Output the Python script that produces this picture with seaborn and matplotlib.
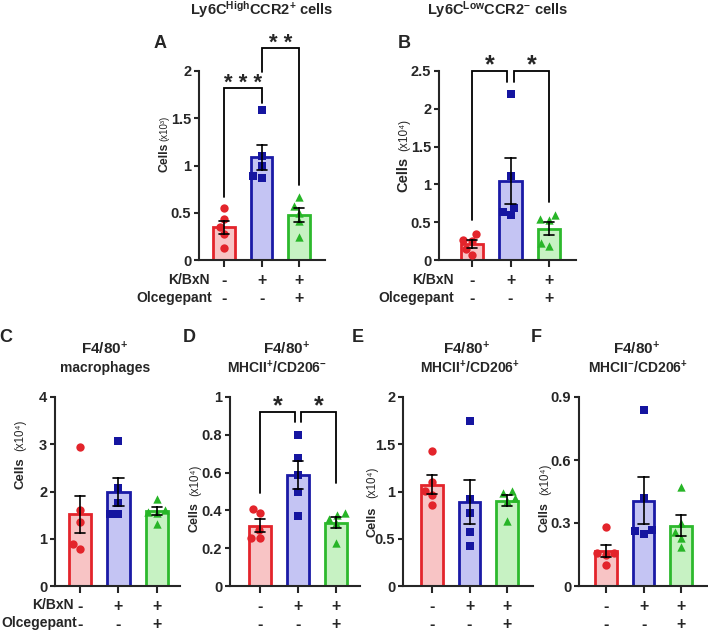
import pandas as pd
import seaborn as sns
import matplotlib
matplotlib.use("Agg")
import matplotlib.pyplot as plt
from matplotlib.ticker import FuncFormatter

groups = ["Control", "K/BxN", "K/BxN + Olcegepant"]
kbxn_signs = ["-", "+", "+"]
olce_signs = ["-", "-", "+"]

# cells per mouse (5 mice per group)
a_ctrl = [0.55, 0.43, 0.35, 0.27, 0.13]
a_kbxn = [1.59, 1.10, 1.00, 0.87, 0.885]
a_olce = [0.67, 0.57, 0.50, 0.41, 0.24]

b_ctrl = [0.35, 0.27, 0.25, 0.14, 0.06]
b_kbxn = [2.19, 1.11, 0.69, 0.59, 0.635]
b_olce = [0.60, 0.54, 0.525, 0.23, 0.18]

c_ctrl = [2.94, 1.61, 1.36, 0.88, 0.78]
c_kbxn = [3.07, 2.08, 1.75, 1.52, 1.52]
c_olce = [1.85, 1.61, 1.57, 1.55, 1.32]

d_ctrl = [0.41, 0.384, 0.296, 0.255, 0.252]
d_kbxn = [0.80, 0.678, 0.586, 0.50, 0.371]
d_olce = [0.387, 0.375, 0.356, 0.331, 0.225]

e_ctrl = [1.43, 1.10, 1.01, 0.96, 0.86]
e_kbxn = [1.75, 0.92, 0.775, 0.567, 0.42]
e_olce = [1.01, 0.98, 0.93, 0.90, 0.69]

f_ctrl = [0.279, 0.158, 0.155, 0.147, 0.10]
f_kbxn = [0.837, 0.42, 0.266, 0.261, 0.25]
f_olce = [0.472, 0.298, 0.255, 0.227, 0.187]

edge_colors = ["#E3242B", "#1A1AA6", "#2DB92D"]
fill_colors = ["#F8C4C5", "#C4C4F3", "#C7F2C3"]
point_colors = ["#E3242B", "#1515A0", "#27B527"]
markers = ["o", "s", "^"]

sns.set_style("ticks")
plt.rcParams["font.family"] = ["Liberation Sans", "DejaVu Sans"]
plt.rcParams["font.weight"] = "bold"
plt.rcParams["mathtext.fontset"] = "custom"
plt.rcParams["mathtext.rm"] = "Liberation Sans:bold"
plt.rcParams["mathtext.it"] = "Liberation Sans:bold"
plt.rcParams["mathtext.bf"] = "Liberation Sans:bold"

W, H = 708, 632
fig = plt.figure(figsize=(W / 100, H / 100), dpi=100)


def fx(x):
    return x / W


def fy(y):
    return 1 - y / H


def make_df(ctrl, kbxn, olce):
    vals = ctrl + kbxn + olce
    labels = [groups[0]] * len(ctrl) + [groups[1]] * len(kbxn) + [groups[2]] * len(olce)
    return pd.DataFrame({"group": labels, "cells": vals})


def panel(box, df, yticks, xlim):
    left, top, right, bottom = box
    ax = fig.add_axes([fx(left), fy(bottom), (right - left) / W, (bottom - top) / H])
    sns.barplot(data=df, x="group", y="cells", hue="group", order=groups, hue_order=groups,
                palette=fill_colors, saturation=1, width=0.58, errorbar="se", capsize=0.27,
                err_kws={"color": "black", "linewidth": 1.2, "zorder": 5}, legend=False, ax=ax)
    for patch, ec in zip(ax.patches, edge_colors):
        patch.set_edgecolor(ec)
        patch.set_linewidth(2.0)
    for g, m, c in zip(groups, markers, point_colors):
        sns.swarmplot(data=df[df.group == g], x="group", y="cells", order=groups,
                      marker=m, color=c, size=6, zorder=4, ax=ax)
    ax.set_xlim(*xlim)
    ax.set_ylim(0, yticks[-1])
    ax.set_yticks(yticks)
    ax.yaxis.set_major_formatter(FuncFormatter(lambda v, _: f"{v:g}"))
    ax.set_xticks([0, 1, 2])
    ax.set_xticklabels([])
    ax.set_xlabel("")
    ax.set_ylabel("")
    sns.despine(ax=ax)
    for s in ["left", "bottom"]:
        ax.spines[s].set_linewidth(1.5)
    ax.tick_params(axis="y", length=3.6, width=1.5, labelsize=10.5, pad=2)
    ax.tick_params(axis="x", length=5, width=1.5)
    for i in range(3):
        ax.annotate(kbxn_signs[i], (i, 0), xycoords=("data", "axes fraction"),
                    xytext=(0, -20), textcoords="offset pixels", ha="center", va="center",
                    fontsize=11.5, fontweight="bold")
        ax.annotate(olce_signs[i], (i, 0), xycoords=("data", "axes fraction"),
                    xytext=(0, -38), textcoords="offset pixels", ha="center", va="center",
                    fontsize=11.5, fontweight="bold")
    return ax


def bracket(ax, x0, x1, top, lb, rb, label, size):
    ax.plot([x0, x0, x1, x1], [lb, top, top, rb], color="black", lw=1.3, clip_on=False,
            solid_joinstyle="miter")
    ax.annotate(label, ((x0 + x1) / 2, top), xytext=(0, -1), textcoords="offset pixels",
                ha="center", va="baseline", fontsize=size, fontweight="bold",
                annotation_clip=False)


def ylabel(x, y_cells, y_unit, unit, s1, s2):
    fig.text(fx(x), fy(y_cells), "Cells", rotation=90, rotation_mode="anchor",
             ha="center", va="baseline", fontsize=s1, fontweight="bold")
    fig.text(fx(x), fy(y_unit), unit, rotation=90, rotation_mode="anchor",
             ha="center", va="baseline", fontsize=s2, fontweight="normal")


# top row
ax_a = panel((199, 71, 325, 260), make_df(a_ctrl, a_kbxn, a_olce), [0, 0.5, 1, 1.5, 2], (-0.667, 2.69))
bracket(ax_a, 0, 1, 1.82, 0.67, 1.66, "* * *", 16)
bracket(ax_a, 1, 2, 2.24, 1.99, 0.79, "* *", 16)

ax_b = panel((439, 71, 576, 260), make_df(b_ctrl, b_kbxn, b_olce), [0, 0.5, 1, 1.5, 2, 2.5], (-0.857, 2.7))
bracket(ax_b, 0, 0.92, 2.5, 0.53, 2.35, "*", 18)
bracket(ax_b, 1.08, 2, 2.5, 2.35, 0.77, "*", 18)

# bottom row
ax_c = panel((55, 397, 180, 586), make_df(c_ctrl, c_kbxn, c_olce), [0, 1, 2, 3, 4], (-0.65, 2.6))
ax_d = panel((230, 397, 360, 586), make_df(d_ctrl, d_kbxn, d_olce), [0, 0.2, 0.4, 0.6, 0.8, 1], (-0.79, 2.63))
bracket(ax_d, 0, 0.92, 0.92, 0.49, 0.87, "*", 18)
bracket(ax_d, 1.08, 2, 0.92, 0.87, 0.545, "*", 18)
ax_e = panel((403, 397, 533, 586), make_df(e_ctrl, e_kbxn, e_olce), [0, 0.5, 1, 1.5, 2], (-0.77, 2.69))
ax_f = panel((579, 397, 707, 586), make_df(f_ctrl, f_kbxn, f_olce), [0, 0.3, 0.6, 0.9], (-0.72, 2.69))

# titles
fig.text(fx(262), fy(10), r"Ly6C$^{High}$CCR2$^{+}$ cells", ha="center", va="center", fontsize=10.5)
fig.text(fx(498), fy(10), r"Ly6C$^{Low}$CCR2$^{-}$ cells", ha="center", va="center", fontsize=10.5)
for x1, x2, l2 in [(105, 105, "macrophages"),
                   (287, 277, r"MHCII$^{+}$/CD206$^{-}$"),
                   (467, 470, r"MHCII$^{+}$/CD206$^{+}$"),
                   (637, 638, r"MHCII$^{-}$/CD206$^{+}$")]:
    fig.text(fx(x1), fy(349), r"F4/80$^{+}$", ha="center", va="center", fontsize=11)
    fig.text(fx(x2), fy(368), l2, ha="center", va="center", fontsize=10)

# panel letters
for letter, x, y in [("A", 160, 43), ("B", 404, 43), ("C", 6, 338),
                     ("D", 189, 338), ("E", 358, 338), ("F", 536, 338)]:
    fig.text(fx(x), fy(y), letter, ha="center", va="center", fontsize=13)

# y axis labels
ylabel(167, 157, 128, "(x10³)", 8.8, 7)
ylabel(407, 174, 135, "(x10⁴)", 10.5, 8.5)
ylabel(23, 473, 435, "(x10⁴)", 9.5, 8.3)
ylabel(198, 517, 480, "(x10⁴)", 9, 8.3)
ylabel(375, 522, 482, "(x10⁴)", 9.2, 8.3)
ylabel(548, 517, 479, "(x10⁴)", 9, 8.3)

# row labels for the treatment table
for x, y, txt in [(210, 280, "K/BxN"), (212, 298, "Olcegepant"),
                  (454, 280, "K/BxN"), (454, 298, "Olcegepant"),
                  (74, 605, "K/BxN"), (77, 623, "Olcegepant")]:
    fig.text(fx(x), fy(y), txt, ha="right", va="center", fontsize=10)

fig.savefig("out.png", dpi=100, facecolor="white")
